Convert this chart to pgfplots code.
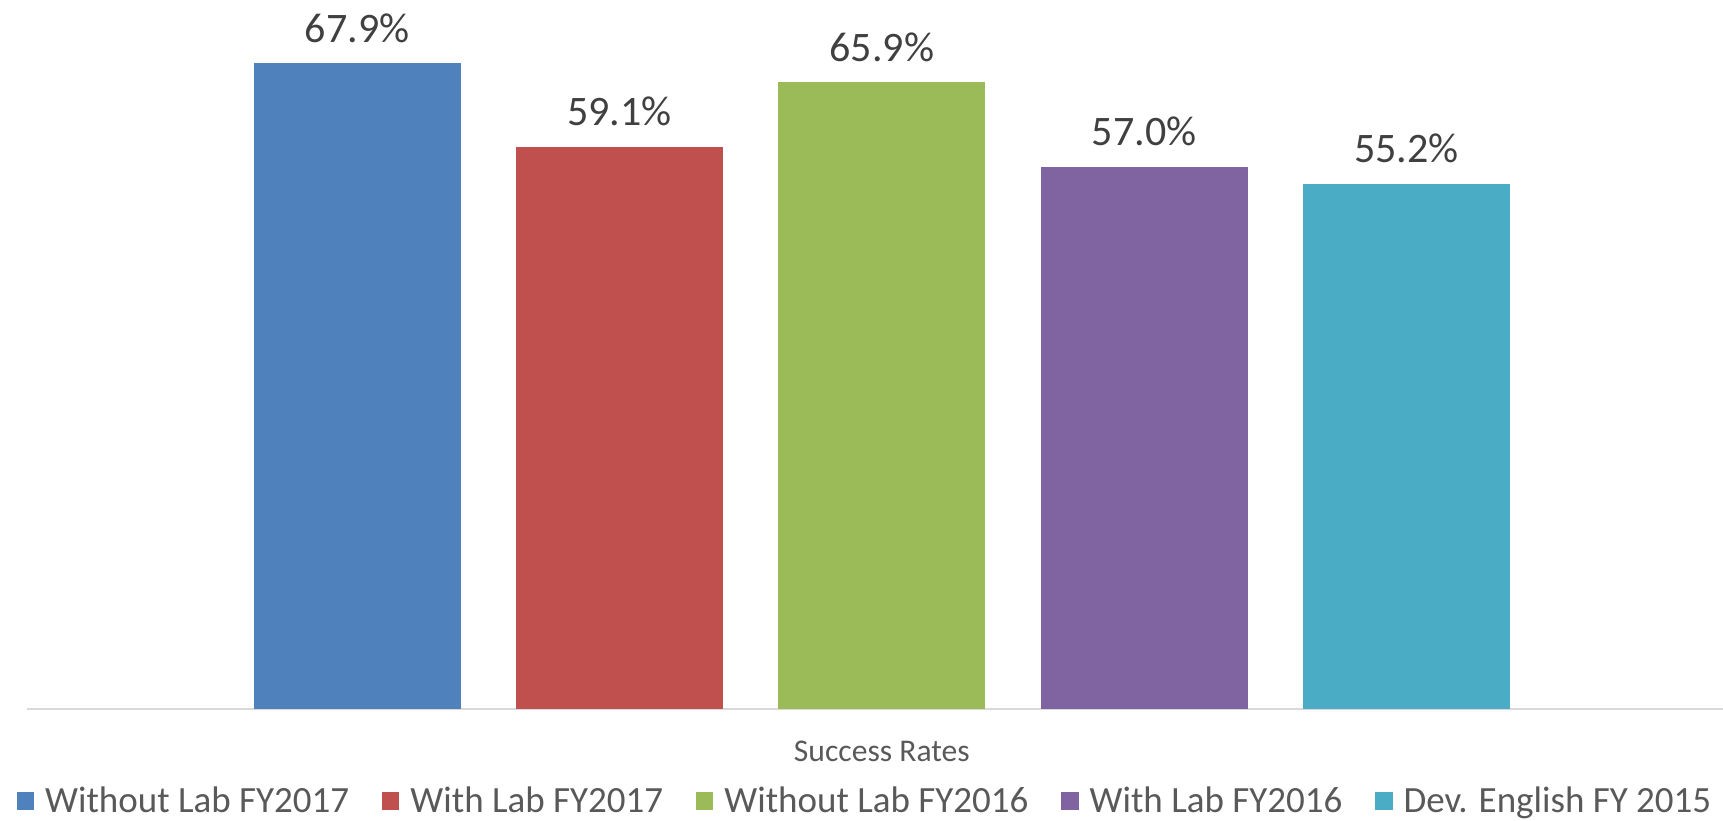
\documentclass[border=0pt]{standalone}
\usepackage{fontspec}
\setmainfont{Carlito}
\usepackage{pgfplots}
\pgfplotsset{compat=1.18}
\definecolor{c1}{HTML}{4F81BD}
\definecolor{c2}{HTML}{C0504D}
\definecolor{c3}{HTML}{9BBB59}
\definecolor{c4}{HTML}{8064A2}
\definecolor{c5}{HTML}{4BACC6}
\definecolor{lbl}{HTML}{404040}
\definecolor{txt}{HTML}{595959}
\definecolor{axl}{HTML}{D9D9D9}
\begin{document}
\begin{tikzpicture}
\begin{axis}[
  at={(0,0)}, anchor=south west,
  scale only axis,
  width=848pt, height=354.5pt,
  xmin=-1.258, xmax=5.206,
  ymin=0, ymax=74.52,
  axis x line*=bottom,
  hide y axis,
  x axis line style={draw=axl, line width=1pt, -},
  xtick=\empty, ytick=\empty,
  clip=false,
  /pgf/number format/assume math mode=true,
  ybar, bar width=103.5pt, bar shift=0pt,
  nodes near coords={\pgfmathprintnumber[fixed,fixed zerofill,precision=1]{\pgfplotspointmeta}\%},
  nodes near coords style={font=\fontsize{21}{25}\selectfont, text=lbl, anchor=center, yshift=17.5pt},
  every axis plot/.append style={draw=none},
  legend columns=5,
  legend style={at={(0.4935,-0.130)}, anchor=center, draw=none, fill=none,
    font=\fontsize{18.5}{22}\selectfont, text=txt,
    nodes={inner sep=0pt},
    /tikz/every odd column/.append style={column sep=5.5pt},
    /tikz/every even column/.append style={column sep=16.3pt}},
  legend image code/.code={\fill[#1] (0pt,-4.4pt) rectangle (8.8pt,4.4pt);},
]
\addplot[fill=c1] coordinates {(0,67.9)};
\addplot[fill=c2] coordinates {(1,59.1)};
\addplot[fill=c3] coordinates {(2,65.9)};
\addplot[fill=c4] coordinates {(3,57.0)};
\addplot[fill=c5] coordinates {(4,55.2)};
\legend{Without Lab FY2017,With Lab FY2017,Without Lab FY2016,With Lab FY2016,Dev. English FY 2015}
\node[font=\fontsize{15.8}{19}\selectfont, text=txt, anchor=center] at (axis cs:2,0) [yshift=-21pt] {Success Rates};
\end{axis}
\pgfresetboundingbox
\path (-13.5pt,-55.5pt) rectangle (848pt,354.5pt);
\end{tikzpicture}
\end{document}
